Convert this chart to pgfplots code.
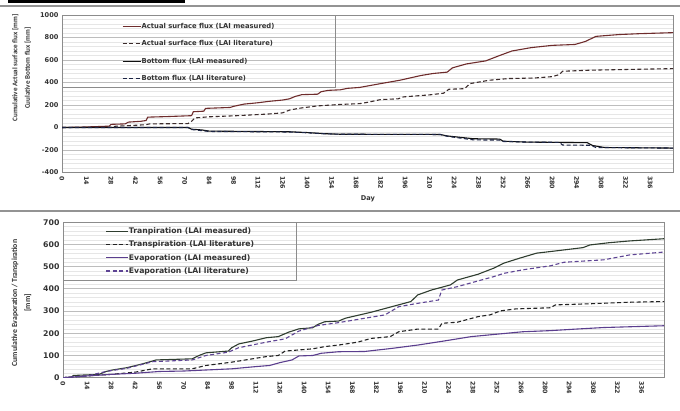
\documentclass[border=0pt]{standalone}
\usepackage{fontspec}
\setmainfont{Carlito}
\newfontfamily\dvs{DejaVu Sans}
\usepackage{pgfplots}
\pgfplotsset{compat=1.18}
\definecolor{sfm}{HTML}{6E2C2C}
\definecolor{sfl}{HTML}{3B2B2B}
\definecolor{bfm}{HTML}{101010}
\definecolor{bfl}{HTML}{1C2444}
\definecolor{trm}{HTML}{2F3D2F}
\definecolor{trl}{HTML}{222222}
\definecolor{evm}{HTML}{5B3E8E}
\definecolor{evl}{HTML}{5E4494}
\definecolor{gridmaj}{HTML}{BDBDBD}
\definecolor{gridmin}{HTML}{E6E6E6}
\definecolor{frame}{HTML}{8C8C8C}
\definecolor{txt}{HTML}{333333}
\pgfplotsset{
  mystyle/.style={
    scale only axis,
    axis line style={frame, line width=0.8pt},
    ymajorgrids, yminorgrids,
    major grid style={gridmaj, line width=0.8pt},
    minor grid style={gridmin, line width=0.6pt},
    xmin=0, xmax=349,
    xtick={0,14,...,336},
    major tick length=0pt, minor tick length=0pt,
    x tick label style={rotate=-90, anchor=west, text=txt, font=\dvs\fontsize{6.3}{7}\selectfont\bfseries},
    /pgf/number format/assume math mode=true,
    /pgf/number format/1000 sep={},
    legend cell align=left,
    every axis plot/.append style={line width=1.1pt},
  },
  dsh/.style={dash pattern=on 4pt off 2.5pt},
}
\begin{document}
\begin{tikzpicture}[x=1pt,y=1pt]
% decorations of the screenshot
\fill[black] (8,408.3) rectangle (185,411);
\fill[gray!85] (0,403.7) rectangle (680,406);
\fill[gray!85] (0,198.7) rectangle (680,201);
% ---------------- top chart ----------------
\begin{axis}[mystyle,
  at={(62pt,238.5pt)}, anchor=south west,
  width=611pt, height=157.5pt,
  ymin=-400, ymax=1000, ytick={-400,-200,...,1000},
  minor y tick num=4,
  y tick label style={text=txt, font=\dvs\fontsize{6.6}{7}\selectfont\bfseries},
  legend image code/.code={\draw[#1] (0pt,0pt) -- (18pt,0pt);},
  legend style={at={(0.2234,0.762)}, anchor=center, draw=none, fill=none,
    text=txt, font=\dvs\fontsize{6.8}{8}\selectfont\bfseries, row sep=10pt,
    nodes={inner sep=0.4pt}},
]
\addplot[sfm] coordinates {(0,0) (10,3) (20,8) (27,12) (28,28) (36,32) (38,48) (45,55) (48,62) (49,92) (60,97) (74,105) (75,140) (81,145) (82,170) (96,178) (98,188) (104,208) (112,220) (118,232) (126,244) (130,255) (133,275) (137,292) (146,296) (148,318) (152,330) (159,335) (163,348) (170,356) (182,390) (193,420) (205,462) (212,480) (220,492) (223,530) (231,565) (242,592) (250,640) (257,680) (268,710) (280,730) (293,738) (299,765) (305,810) (318,826) (330,834) (349,843)};
\addlegendentry{Actual surface flux (LAI measured)}
\addplot[sfl, dsh] coordinates {(0,0) (28,2) (31,12) (40,18) (48,25) (50,32) (72,35) (74,55) (76,85) (84,95) (100,105) (118,120) (126,130) (130,155) (136,172) (146,192) (159,205) (170,212) (175,225) (182,248) (192,255) (195,272) (210,290) (218,305) (221,340) (230,345) (233,390) (244,420) (255,435) (270,440) (280,452) (284,470) (286,500) (303,510) (330,518) (349,523)};
\addlegendentry{Actual surface flux (LAI literature)}
\addplot[bfm] coordinates {(0,0) (72,0) (74,-15) (80,-22) (84,-32) (130,-38) (140,-45) (150,-55) (159,-60) (216,-62) (220,-75) (235,-100) (250,-103) (252,-122) (266,-130) (300,-135) (303,-160) (310,-178) (349,-183)};
\addlegendentry{Bottom flux (LAI measured)}
\addplot[bfl, dsh] coordinates {(0,0) (72,0) (74,-18) (84,-35) (130,-40) (140,-47) (150,-56) (159,-60) (216,-62) (220,-78) (235,-110) (250,-112) (252,-124) (266,-130) (284,-132) (286,-156) (302,-158) (305,-178) (349,-183)};
\addlegendentry{Bottom flux (LAI literature)}
\draw[frame, line width=0.8pt] (axis description cs:0,0.543) -| (axis description cs:0.4468,1);
\end{axis}
\node[rotate=90, align=center, text=txt, font=\fontsize{7.1}{12.5}\selectfont\bfseries] at (21.5,343) {Cumulative Actual surface flux [mm]\\Cuulative Bottom flux [mm]};
\node[text=txt, font=\dvs\fontsize{6.6}{7}\selectfont\bfseries] at (368,212) {Day};
% ---------------- bottom chart ----------------
\begin{axis}[mystyle,
  at={(63pt,33.3pt)}, anchor=south west,
  width=601pt, height=155.4pt,
  ymin=0, ymax=700, ytick={0,100,...,700},
  minor y tick num=4,
  y tick label style={text=txt, font=\dvs\fontsize{7.8}{8}\selectfont\bfseries},
  legend image code/.code={\draw[#1] (0pt,0pt) -- (22pt,0pt);},
  legend style={at={(0.1947,0.8135)}, anchor=center, draw=none, fill=none,
    text=txt, font=\dvs\fontsize{7.7}{9}\selectfont\bfseries, row sep=5pt,
    nodes={inner sep=0.4pt}},
]
\addplot[trm] coordinates {(0,0) (5,3) (6,10) (21,15) (25,28) (29,35) (37,45) (45,60) (52,75) (54,80) (75,85) (79,100) (83,112) (96,120) (98,135) (102,152) (110,165) (118,180) (125,185) (131,205) (137,220) (145,225) (148,240) (152,252) (160,255) (164,268) (179,295) (191,320) (202,343) (206,373) (214,395) (225,418) (229,440) (241,466) (250,493) (256,516) (265,538) (275,561) (286,571) (302,586) (306,598) (317,608) (329,616) (349,626)};
\addlegendentry{Tranpiration (LAI measured)}
\addplot[trl, dsh] coordinates {(0,0) (14,8) (28,15) (42,25) (52,40) (75,40) (83,55) (98,70) (110,85) (118,95) (125,100) (129,120) (145,130) (152,140) (160,147) (171,160) (179,177) (190,185) (195,207) (206,219) (218,219) (220,245) (229,250) (241,275) (248,283) (254,301) (263,310) (283,315) (286,328) (306,333) (329,340) (349,343)};
\addlegendentry{Transpiration (LAI literature)}
\addplot[evm] coordinates {(0,0) (14,8) (28,15) (42,20) (56,28) (70,30) (84,35) (98,40) (112,50) (120,55) (126,68) (133,80) (137,98) (145,100) (150,110) (160,117) (175,118) (191,132) (206,147) (221,165) (237,185) (252,196) (267,207) (283,212) (298,219) (314,226) (349,234)};
\addlegendentry{Evaporation (LAI measured)}
\addplot[evl, dsh] coordinates {(0,0) (14,8) (25,28) (29,33) (37,42) (45,58) (52,72) (75,80) (83,100) (96,115) (102,135) (118,160) (129,175) (137,210) (148,235) (160,248) (187,283) (195,320) (206,335) (218,350) (220,395) (229,410) (241,436) (250,455) (256,470) (267,486) (283,504) (291,520) (314,531) (329,553) (349,566)};
\addlegendentry{Evaporation (LAI literature)}
\draw[frame, line width=0.8pt] (axis description cs:0,0.627) -| (axis description cs:0.389,1);
\end{axis}
\node[rotate=90, align=center, text=txt, font=\fontsize{7.8}{13}\selectfont\bfseries] at (21.5,108) {Cumulative Evaporation / Transpiration\\{[}mm{]}};
\pgfresetboundingbox
\useasboundingbox (0,0) rectangle (680,411);
\end{tikzpicture}
\end{document}
